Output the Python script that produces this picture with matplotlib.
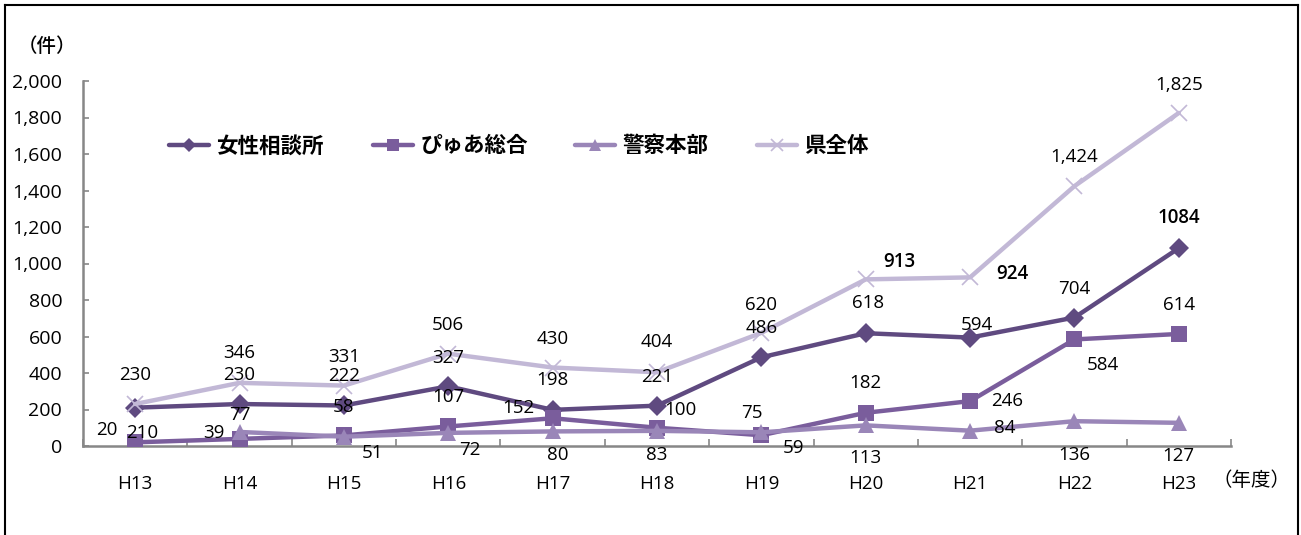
import numpy as np
import matplotlib
matplotlib.use("Agg")
import matplotlib.pyplot as plt
from matplotlib.lines import Line2D

# ---- data ----
years = ["H13", "H14", "H15", "H16", "H17", "H18", "H19", "H20", "H21", "H22", "H23"]
series_names = ["女性相談所", "ぴゅあ総合", "警察本部", "県全体"]
josei = [210, 230, 222, 327, 198, 221, 486, 618, 594, 704, 1084]
pyua = [20, 39, 58, 107, 152, 100, 59, 182, 246, 584, 614]
keisatsu = [np.nan, 77, 51, 72, 80, 83, 75, 113, 84, 136, 127]
ken = [230, 346, 331, 506, 430, 404, 620, 913, 924, 1424, 1825]
y_ticks = [0, 200, 400, 600, 800, 1000, 1200, 1400, 1600, 1800, 2000]

# ---- styles / layout ----
NUM_FONT = "Open Sans"
CJK = ["Noto Sans CJK JP", "DejaVu Sans"]
styles = [
    dict(color="#5f4a80", marker="D", ms=10, lw=3.2, mew=0),
    dict(color="#7a5d9c", marker="s", ms=12, lw=3.2, mew=0),
    dict(color="#9a86b8", marker="^", ms=12, lw=3.2, mew=0),
    dict(color="#c2b8d6", marker="x", ms=12, lw=3.2, mew=1.2),
]
# label offsets in pixels (dx, dy)
offsets = [
    [(7, -25), (0, 29), (0, 29), (0, 28), (0, 30), (0, 29), (0, 29), (2, 30), (7, 13), (0, 29), (0, 30)],
    [(-28, 12), (-26, 6), (0, 28), (0, 29), (-34, 10), (23, 18), (32, -13), (0, 30), (37, 0), (28, -26), (0, 29)],
    [None, (0, 17), (29, -16), (22, -17), (5, -24), (0, -24), (-9, 19), (0, -33), (35, 3), (0, -34), (0, -33)],
    [(0, 29), (0, 30), (0, 29), (0, 29), (0, 29), (0, 30), (0, 28), (34, 17), (42, 3), (0, 29), (0, 28)],
]
comma_fmt = [False, False, False, True]
bold_labels = {(0, 10), (3, 7), (3, 8)}

W, H = 1301, 535
fig = plt.figure(figsize=(W / 100, H / 100), dpi=100)
ax = fig.add_axes([83 / W, 1 - 446 / H, 1148 / W, 365 / H])

x = np.arange(len(years))
all_series = [josei, pyua, keisatsu, ken]
handles = []
for i, (vals, st) in enumerate(zip(all_series, styles)):
    (h,) = ax.plot(x, vals, color=st["color"], lw=st["lw"], marker=st["marker"],
                   markersize=st["ms"], markeredgewidth=st["mew"],
                   markeredgecolor=st["color"], markerfacecolor=st["color"],
                   solid_capstyle="round", zorder=3 + i, label=series_names[i])
    handles.append(h)
    for j, v in enumerate(vals):
        off = offsets[i][j]
        if off is None or np.isnan(v):
            continue
        txt = f"{int(v):,}" if comma_fmt[i] else f"{int(v)}"
        ax.annotate(txt, (x[j], v), xytext=off, textcoords="offset pixels",
                    ha="center", va="center", fontsize=13.5, family=NUM_FONT,
                    fontweight="semibold" if (i, j) in bold_labels else "normal",
                    color="black", zorder=10, annotation_clip=False)

ax.set_xlim(-0.5, len(years) - 0.5)
ax.set_ylim(0, 2000)
ax.set_yticks(y_ticks)
ax.set_yticklabels([f"{t:,}" for t in y_ticks], family=NUM_FONT, fontsize=14)
ax.set_xticks(x)
ax.set_xticklabels(years, family=NUM_FONT, fontsize=13.5)
ax.set_xticks(np.arange(-0.5, len(years)), minor=True)
ax.tick_params(axis="x", which="major", length=0, pad=21)
ax.tick_params(axis="x", which="minor", direction="in", length=5, width=1.2, color="#878787")
ax.tick_params(axis="y", which="major", direction="in", length=4, width=1.2, color="#878787", pad=15)
for s in ["top", "right"]:
    ax.spines[s].set_visible(False)
for s in ["left", "bottom"]:
    ax.spines[s].set_color("#878787")
    ax.spines[s].set_linewidth(1.8)
ax.patch.set_alpha(0)

fig.text(47 / W, 1 - 47 / H, "（件）", family=CJK, fontsize=14, fontweight="medium",
         ha="center", va="center")
fig.text(1252 / W, 1 - 481 / H, "（年度）", family=CJK, fontsize=14, ha="center", va="center")

# legend entries (equally spaced like the original)
leg_x = [169, 373, 575, 757]
for h, lx in zip(handles, leg_x):
    fig.legend(handles=[h], labels=[h.get_label()], loc="center left",
               bbox_to_anchor=(lx / W, 1 - 146 / H), frameon=False,
               prop=dict(family=CJK, size=15.5, weight="bold"),
               handlelength=1.85, handletextpad=0.35, markerscale=0.75,
               borderpad=0, borderaxespad=0)

# outer frame (bottom edge lies outside the picture)
fx0, fx1, fy1 = 5 / W, 1298 / W, 1 - 5 / H
for xs, ys in [([fx0, fx0], [-0.1, fy1]), ([fx0, fx1], [fy1, fy1]), ([fx1, fx1], [fy1, -0.1])]:
    fig.add_artist(Line2D(xs, ys, transform=fig.transFigure, color="black", lw=1.5))

fig.savefig("out.png", dpi=100)
